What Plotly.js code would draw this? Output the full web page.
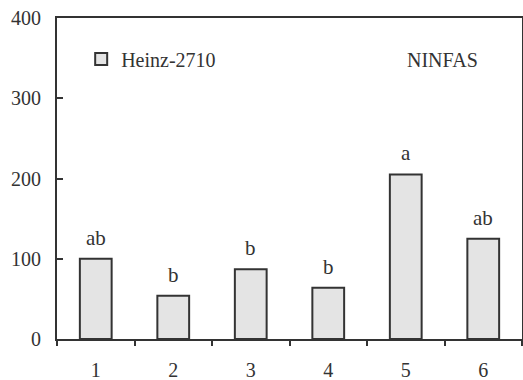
<!DOCTYPE html>
<html><head><meta charset="utf-8">
<script src="https://cdn.plot.ly/plotly-3.0.1.min.js"></script>
<style>html,body{margin:0;padding:0;background:#fff}#c{width:523px;height:380px}</style>
</head><body><div id="c"></div>
<script>
var categories = ["1","2","3","4","5","6"];
var values = [100, 54, 87, 64, 205, 125];
var letters = ["ab","b","b","b","a","ab"];
var seriesName = "Heinz-2710";
var panelLabel = "NINFAS";
var yTicks = [0,100,200,300,400];

var fam = "Liberation Serif, Times New Roman, serif";
var font = {family: fam, size: 20, color: "#333"};
var trace = {
  type: "bar", x: categories, y: values, name: seriesName,
  width: 0.41,
  marker: {color: "#e4e4e4", line: {color: "#333", width: 2}},
  showlegend: true, hoverinfo: "skip"
};
var annotations = categories.map(function(c, i){
  return {x: i, y: values[i], xref: "x", yref: "y", text: letters[i], showarrow: false,
    yanchor: "bottom", yshift: 7, font: {family: fam, size: 21, color: "#333"}};
});
annotations.push({x: 0.829, y: 0.869, xref: "paper", yref: "paper", text: panelLabel, showarrow: false,
  xanchor: "center", yanchor: "middle", font: font});
var layout = {
  width: 523, height: 380,
  margin: {l: 57, r: 1, t: 18, b: 41},
  paper_bgcolor: "#fff", plot_bgcolor: "#fff",
  font: font,
  xaxis: {type: "category", range: [-0.5, 5.5], showline: true, mirror: true, linecolor: "#333", linewidth: 2,
    ticks: "outside", tickson: "boundaries", ticklen: 5, tickwidth: 2, tickcolor: "#333",
    showgrid: false, zeroline: false, tickfont: font, ticklabelstandoff: 12},
  yaxis: {range: [0, 400], tickvals: yTicks, showline: true, mirror: true, linecolor: "#333", linewidth: 2,
    ticks: "inside", ticklen: 6, tickwidth: 2, tickcolor: "#333", showgrid: false, zeroline: false,
    tickfont: font, ticklabelstandoff: 10},
  showlegend: true,
  legend: {x: 0.052, y: 0.872, xanchor: "left", yanchor: "middle", bgcolor: "rgba(0,0,0,0)",
    font: {family: fam, size: 20, color: "#333"}},
  annotations: annotations
};
Plotly.newPlot("c", [trace], layout, {displayModeBar: false, staticPlot: true});
</script></body></html>
